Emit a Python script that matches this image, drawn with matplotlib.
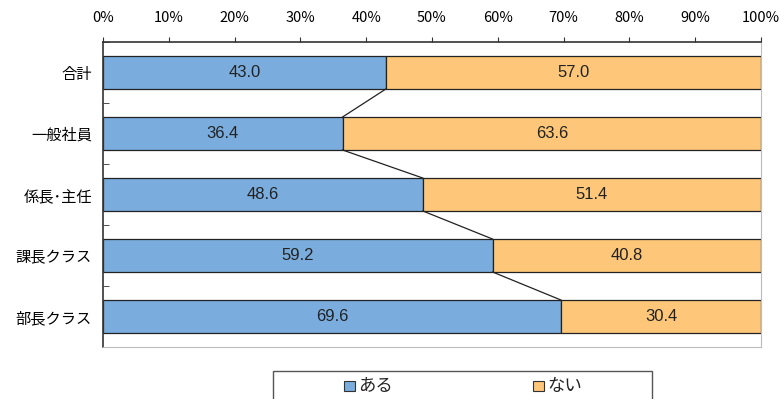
import matplotlib.pyplot as plt
from matplotlib.patches import Rectangle

plt.rcParams['font.family'] = ['Noto Sans CJK JP', 'DejaVu Sans']

# 役職別の回答割合（%）
categories = ['合計', '一般社員', '係長･主任', '課長クラス', '部長クラス']
aru = [43.0, 36.4, 48.6, 59.2, 69.6]
nai = [57.0, 63.6, 51.4, 40.8, 30.4]
ticks = [0, 10, 20, 30, 40, 50, 60, 70, 80, 90, 100]
legend_labels = ['ある', 'ない']

blue = '#7aaddd'
orange = '#fdc679'
h = 0.54
W, H = 779, 399
num_font = ['Liberation Sans', 'DejaVu Sans']

fig = plt.figure(figsize=(W / 100, H / 100), dpi=100)
ax = fig.add_axes([103 / W, 1 - 347 / H, 658 / W, 305 / H])

ypos = list(range(len(categories)))
ax.barh(ypos, aru, height=h, color=blue, edgecolor='#222222', linewidth=0.9)
ax.barh(ypos, nai, left=aru, height=h, color=orange, edgecolor='#222222', linewidth=0.9)

for i in ypos:
    ax.text(aru[i] / 2, i, f'{aru[i]:.1f}', ha='center', va='center',
            fontsize=12, family=num_font, color='#222222')
    ax.text(aru[i] + nai[i] / 2, i, f'{nai[i]:.1f}', ha='center', va='center',
            fontsize=12, family=num_font, color='#222222')

# 区分線（隣り合う棒の境目をつなぐ）
for i in range(len(categories) - 1):
    ax.plot([aru[i], aru[i + 1]], [i + h / 2, i + 1 - h / 2], color='#222222', lw=0.9)

ax.set_xlim(0, 100)
ax.set_ylim(len(categories) - 0.5, -0.5)

ax.xaxis.tick_top()
ax.set_xticks(ticks)
ax.set_xticklabels([f'{t}%' for t in ticks], fontsize=10.5)
ax.tick_params(axis='x', direction='out', length=3.6, pad=9, color='#333333')

ax.set_yticks(ypos)
ax.set_yticklabels(categories, fontsize=11)
ax.tick_params(axis='y', length=0, pad=8)
ax.set_yticks([i - 0.5 for i in range(len(categories) + 1)], minor=True)
ax.tick_params(axis='y', which='minor', direction='in', length=4, color='#333333')

ax.spines['left'].set_color('#333333')
ax.spines['top'].set_color('#333333')
ax.spines['left'].set_linewidth(1.2)
ax.spines['top'].set_linewidth(1.2)
ax.spines['right'].set_color('#bbbbbb')
ax.spines['bottom'].set_color('#bbbbbb')

# 凡例（下端は図の外まで伸びる枠）
def fx(px):
    return px / W

def fy(py):
    return 1 - py / H

fig.add_artist(Rectangle((fx(273), fy(410)), fx(652) - fx(273), fy(371) - fy(410),
                         transform=fig.transFigure, facecolor='white',
                         edgecolor='#555555', linewidth=1.0))
for color, label, x0 in zip([blue, orange], legend_labels, [344, 533]):
    fig.add_artist(Rectangle((fx(x0), fy(391)), fx(11), 10 / H,
                             transform=fig.transFigure, facecolor=color,
                             edgecolor='#333333', linewidth=0.8))
    fig.text(fx(x0 + 14), fy(386), label, ha='left', va='center', fontsize=12.5, color='#222222')

fig.savefig('out.png', dpi=100)
